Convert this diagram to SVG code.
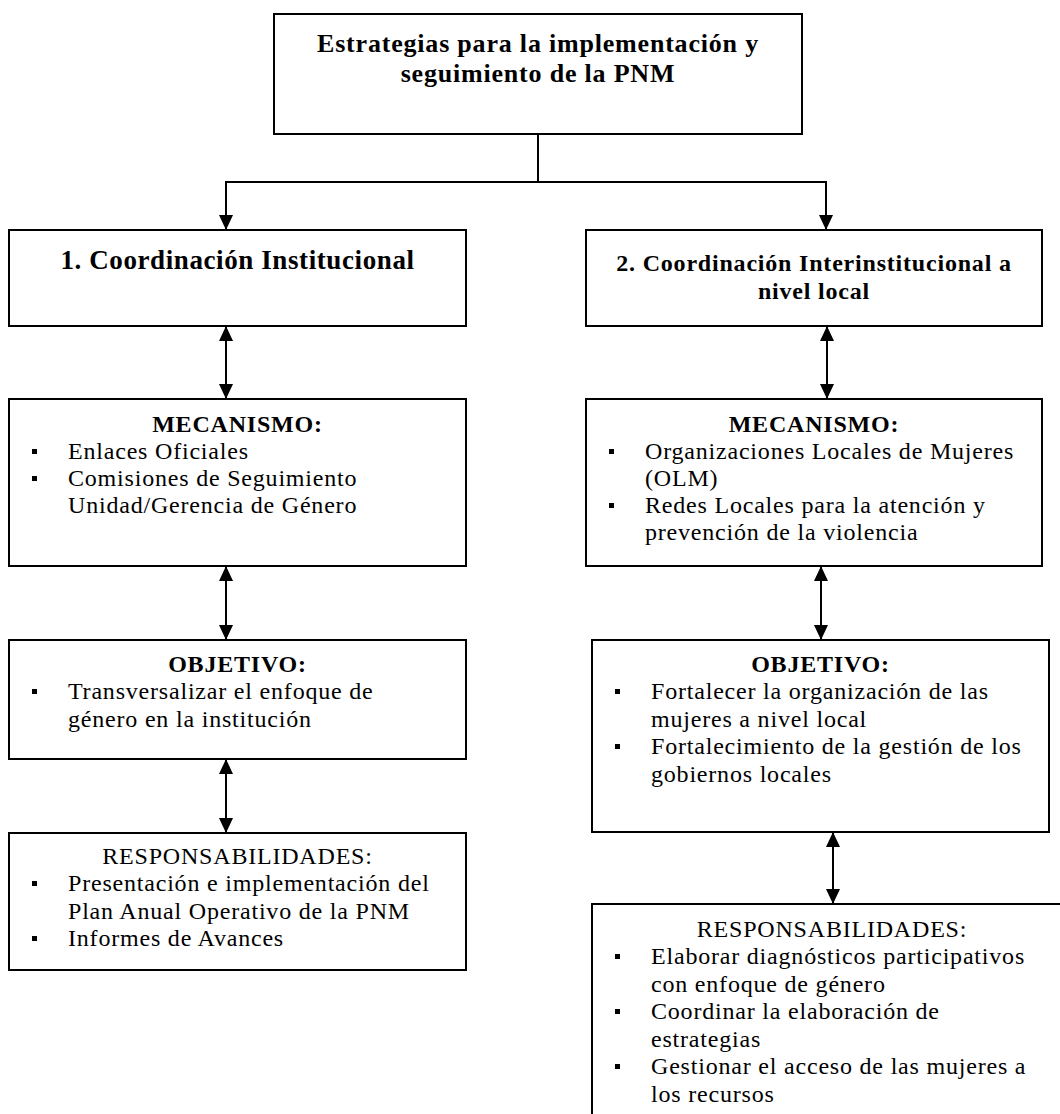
<svg xmlns="http://www.w3.org/2000/svg" width="1060" height="1114" viewBox="0 0 1060 1114">
<style>
.box{fill:#fff;stroke:#000;stroke-width:2}
.t{font-family:"Liberation Serif","Times New Roman",serif;font-size:24px;letter-spacing:0.8px;fill:#000}
.b{font-weight:bold}
.c{text-anchor:middle}
.h1{font-size:26px}
.h2{font-size:27px;letter-spacing:0.6px}
.bul{fill:#000}
.con{fill:none;stroke:#000;stroke-width:2}
</style>
<defs>
<marker id="ah" markerUnits="userSpaceOnUse" markerWidth="15" markerHeight="14" viewBox="0 0 15 14" refX="14" refY="7" orient="auto-start-reverse">
<path d="M0,0 L15,7 L0,14 z" fill="#000"/>
</marker>
</defs>
<rect width="1060" height="1114" fill="#fff"/>
<g id="connectors">
<path class="con" d="M538,134 V182"/>
<path class="con" d="M226,229 V182 H826 V229" marker-start="url(#ah)" marker-end="url(#ah)"/>
<path class="con" d="M226,327 V398" marker-start="url(#ah)" marker-end="url(#ah)"/>
<path class="con" d="M827,327 V398" marker-start="url(#ah)" marker-end="url(#ah)"/>
<path class="con" d="M226,567 V639" marker-start="url(#ah)" marker-end="url(#ah)"/>
<path class="con" d="M821,567 V639" marker-start="url(#ah)" marker-end="url(#ah)"/>
<path class="con" d="M226,760 V832" marker-start="url(#ah)" marker-end="url(#ah)"/>
<path class="con" d="M833,833 V903" marker-start="url(#ah)" marker-end="url(#ah)"/>
</g>
<g id="title">
<rect class="box" x="274" y="14" width="528" height="120"/>
<text class="t b c h1" x="538" y="52">Estrategias para la implementación y</text>
<text class="t b c h1" x="538" y="82">seguimiento de la PNM</text>
</g>
<g id="coord1">
<rect class="box" x="9" y="230" width="457" height="96"/>
<text class="t b c h2" x="237.5" y="269">1. Coordinación Institucional</text>
</g>
<g id="coord2">
<rect class="box" x="586" y="230" width="456" height="96"/>
<text class="t b c" x="814" y="271">2. Coordinación Interinstitucional a</text>
<text class="t b c" x="814" y="299">nivel local</text>
</g>
<g id="mec1">
<rect class="box" x="9" y="399" width="457" height="167"/>
<text class="t b c" x="237.5" y="432">MECANISMO:</text>
<rect class="bul" x="32" y="449" width="5" height="5"/>
<text class="t" x="68" y="459">Enlaces Oficiales</text>
<rect class="bul" x="32" y="476" width="5" height="5"/>
<text class="t" x="68" y="486">Comisiones de Seguimiento</text>
<text class="t" x="68" y="513">Unidad/Gerencia de Género</text>
</g>
<g id="mec2">
<rect class="box" x="586" y="399" width="456" height="167"/>
<text class="t b c" x="814" y="432">MECANISMO:</text>
<rect class="bul" x="609" y="449" width="5" height="5"/>
<text class="t" x="645" y="459">Organizaciones Locales de Mujeres</text>
<text class="t" x="645" y="486">(OLM)</text>
<rect class="bul" x="609" y="503" width="5" height="5"/>
<text class="t" x="645" y="513">Redes Locales para la atención y</text>
<text class="t" x="645" y="540">prevención de la violencia</text>
</g>
<g id="obj1">
<rect class="box" x="9" y="640" width="457" height="119"/>
<text class="t b c" x="237.5" y="672">OBJETIVO:</text>
<rect class="bul" x="32" y="689" width="5" height="5"/>
<text class="t" x="68" y="699">Transversalizar el enfoque de</text>
<text class="t" x="68" y="727">género en la institución</text>
</g>
<g id="obj2">
<rect class="box" x="592" y="640" width="457" height="192"/>
<text class="t b c" x="820.5" y="672">OBJETIVO:</text>
<rect class="bul" x="615" y="689" width="5" height="5"/>
<text class="t" x="651" y="699">Fortalecer la organización de las</text>
<text class="t" x="651" y="727">mujeres a nivel local</text>
<rect class="bul" x="615" y="744" width="5" height="5"/>
<text class="t" x="651" y="754">Fortalecimiento de la gestión de los</text>
<text class="t" x="651" y="782">gobiernos locales</text>
</g>
<g id="resp1">
<rect class="box" x="9" y="833" width="457" height="137"/>
<text class="t c" x="237.5" y="864">RESPONSABILIDADES:</text>
<rect class="bul" x="32" y="881" width="5" height="5"/>
<text class="t" x="68" y="891">Presentación e implementación del</text>
<text class="t" x="68" y="919">Plan Anual Operativo de la PNM</text>
<rect class="bul" x="32" y="936" width="5" height="5"/>
<text class="t" x="68" y="946">Informes de Avances</text>
</g>
<g id="resp2">
<rect class="box" x="592" y="904" width="490" height="230"/>
<text class="t c" x="832" y="937">RESPONSABILIDADES:</text>
<rect class="bul" x="615" y="954" width="5" height="5"/>
<text class="t" x="651" y="964">Elaborar diagnósticos participativos</text>
<text class="t" x="651" y="992">con enfoque de género</text>
<rect class="bul" x="615" y="1009" width="5" height="5"/>
<text class="t" x="651" y="1019">Coordinar la elaboración de</text>
<text class="t" x="651" y="1047">estrategias</text>
<rect class="bul" x="615" y="1064" width="5" height="5"/>
<text class="t" x="651" y="1074">Gestionar el acceso de las mujeres a</text>
<text class="t" x="651" y="1102">los recursos</text>
</g>
</svg>
